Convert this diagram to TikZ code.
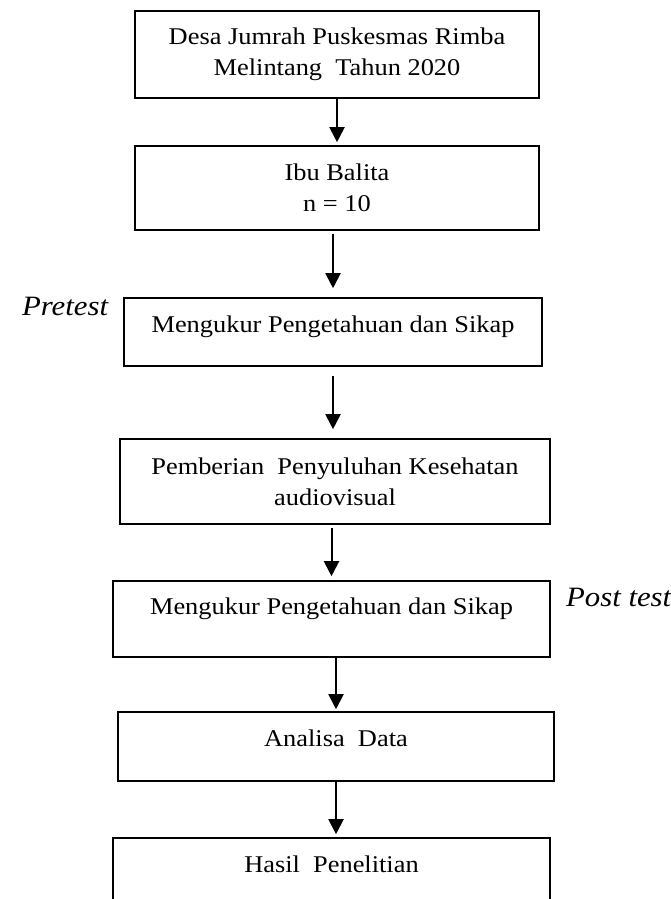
\documentclass[tikz,border=0pt]{standalone}
\usepackage{fontspec}
\setmainfont{Liberation Serif}[FakeStretch=1.1]
\usetikzlibrary{arrows.meta}

\begin{document}
\begin{tikzpicture}[
    x=0.5pt, y=-0.5pt,
    >={Triangle[length=7.5pt,width=7.5pt]},
    box/.style={rectangle, draw=black, line width=0.8pt, inner sep=0pt, align=center,
        font=\fontsize{12}{15.5}\selectfont},
    side/.style={font=\fontsize{14}{16}\selectfont\itshape, anchor=base west}
]
    \useasboundingbox (0,0) rectangle (670,899);

    \node[box, minimum width=202pt, minimum height=43.5pt] at (337,54.5) (n1) {Desa Jumrah Puskesmas Rimba\\Melintang\ \ Tahun 2020};
    \node[box, minimum width=202pt, minimum height=42pt] at (337,188) (n2) {Ibu Balita\\n = 10};
    \node[box, minimum width=209pt, minimum height=34pt, text height=5pt, text depth=5pt] at (333,332) (n3) {Mengukur Pengetahuan dan Sikap};
    \node[box, minimum width=215pt, minimum height=42.5pt] at (335,481.5) (n4) {Pemberian\ \ Penyuluhan Kesehatan\\audiovisual};
    \node[box, minimum width=218.5pt, minimum height=38pt, text height=4pt, text depth=9pt] at (331.5,619) (n5) {Mengukur Pengetahuan dan Sikap};
    \node[box, minimum width=218pt, minimum height=34.5pt, text height=5pt, text depth=5pt] at (336,746.5) (n6) {Analisa\ \ Data};
    \node[box, minimum width=218.5pt, minimum height=40pt, text height=4pt, text depth=10pt] at (331.5,878) (n7) {Hasil\ \ Penelitian};

    \node[side] at (15,315) (l1) {Pretest};
    \node[side] at (559,606) (l2) {Post test};

    \draw[->, line width=1pt, shorten >=1.5pt] (n1) -- (n2);
    \draw[->, line width=1pt, shorten <=1.5pt, shorten >=4.5pt] (n2.south -| n3) -- (n3);
    \draw[->, line width=1pt, shorten <=4.5pt, shorten >=4.5pt] (n3) -- (n3 |- n4.north);
    \draw[->, line width=1pt, shorten <=1.5pt, shorten >=2pt] (n4.south -| n5) -- (n5);
    \draw[->, line width=1pt, shorten >=1pt] (n5.south -| n6) -- (n6);
    \draw[->, line width=1pt, shorten >=1.5pt] (n6) -- (n6 |- n7.north);
\end{tikzpicture}
\end{document}
